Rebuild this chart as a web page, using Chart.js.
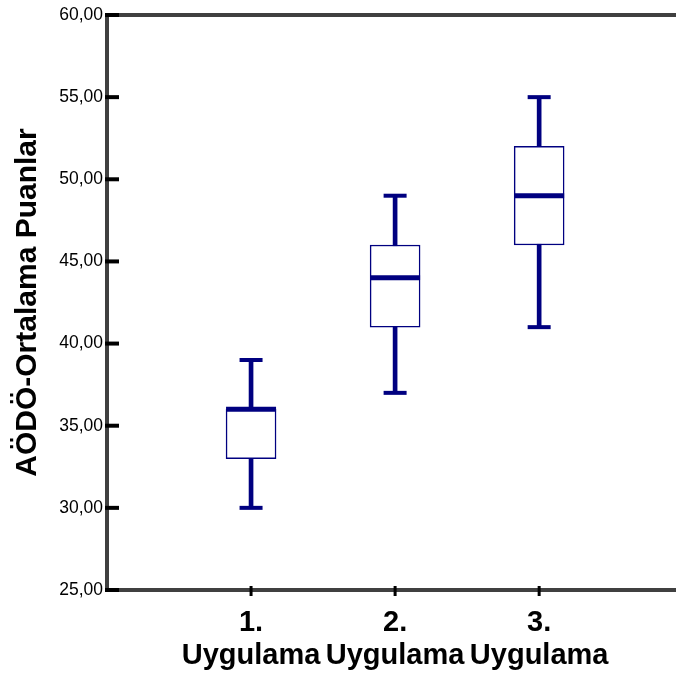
<!DOCTYPE html>
<html>
<head>
<meta charset="utf-8">
<script src="https://cdn.jsdelivr.net/npm/chart.js@4"></script>
<style>
  html, body { margin: 0; padding: 0; background: #fff; overflow: hidden; }
  #wrap { width: 676px; height: 675px; }
</style>
</head>
<body>
<div id="wrap"><canvas id="chart" width="676" height="675"></canvas></div>
<script>
const categories = [['1.', 'Uygulama'], ['2.', 'Uygulama'], ['3.', 'Uygulama']];
const positions = [1, 2, 3];
const whiskerLow = [30, 37, 41];
const q1 = [33, 41, 46];
const median = [36, 44, 49];
const q3 = [36, 46, 52];
const whiskerHigh = [39, 49, 55];
const yTicks = [25, 30, 35, 40, 45, 50, 55, 60];

const navy = '#000080';
const axisGrey = '#404040';

const boxDetails = {
  id: 'boxDetails',
  afterDatasetsDraw(chart) {
    const ctx = chart.ctx;
    const x = chart.scales.x, y = chart.scales.y;
    const area = chart.chartArea;
    ctx.save();
    ctx.strokeStyle = navy;
    ctx.lineCap = 'butt';
    positions.forEach((p, i) => {
      const cx = x.getPixelForValue(p);
      // whisker caps
      ctx.lineWidth = 4;
      [whiskerLow[i], whiskerHigh[i]].forEach(v => {
        const py = y.getPixelForValue(v);
        ctx.beginPath();
        ctx.moveTo(cx - 11.5, py);
        ctx.lineTo(cx + 11.5, py);
        ctx.stroke();
      });
      // median
      ctx.lineWidth = 5;
      const my = y.getPixelForValue(median[i]);
      ctx.beginPath();
      ctx.moveTo(cx - 25, my);
      ctx.lineTo(cx + 25, my);
      ctx.stroke();
    });
    // inner tick marks on the y axis
    ctx.strokeStyle = '#000';
    ctx.lineWidth = 4;
    yTicks.forEach(v => {
      const py = y.getPixelForValue(v);
      ctx.beginPath();
      ctx.moveTo(area.left - 2, py);
      ctx.lineTo(area.left + 12, py);
      ctx.stroke();
    });
    // tick marks on the x axis
    ctx.lineWidth = 3;
    positions.forEach(p => {
      const px = x.getPixelForValue(p);
      ctx.beginPath();
      ctx.moveTo(px, area.bottom - 4);
      ctx.lineTo(px, area.bottom + 6);
      ctx.stroke();
    });
    ctx.restore();
  }
};

const ctx = document.getElementById('chart').getContext('2d');
const myChart = new Chart(ctx, {
  type: 'bar',
  data: {
    datasets: [{
      // boxes q1..q3
      data: positions.map((p, i) => ({ x: p, y: [q1[i], q3[i]] })),
      backgroundColor: '#ffffff',
      borderColor: navy,
      borderWidth: 1.5,
      borderSkipped: false,
      barThickness: 50,
      grouped: false
    }, {
      // whiskers
      data: positions.map((p, i) => ({ x: p, y: [whiskerLow[i], whiskerHigh[i]] })),
      backgroundColor: navy,
      borderWidth: 0,
      barThickness: 4,
      grouped: false
    }]
  },
  options: {
    responsive: false,
    animation: false,
    layout: { padding: { top: 15, right: 0, bottom: 0, left: 0 } },
    plugins: {
      legend: { display: false },
      tooltip: { enabled: false }
    },
    scales: {
      x: {
        type: 'linear',
        position: 'bottom',
        offset: false,
        min: 0,
        max: 3.95,
        afterBuildTicks: (scale) => { scale.ticks = positions.map(v => ({ value: v })); },
        afterFit: (scale) => { scale.height = 85; },
        ticks: {
          autoSkip: false,
          maxRotation: 0,
          padding: 16,
          color: '#000',
          font: { family: 'Liberation Sans, Arial', size: 29, weight: 'bold', lineHeight: 1.15 },
          callback: (v) => {
            const i = positions.indexOf(v);
            return i >= 0 ? categories[i] : '';
          }
        },
        grid: { display: false, drawTicks: false },
        border: { display: true, color: axisGrey, width: 4 }
      },
      xTop: {
        type: 'linear',
        position: 'top',
        offset: false,
        min: 0,
        max: 3.95,
        afterFit: (scale) => { scale.height = 0; },
        ticks: { display: false },
        grid: { display: false, drawTicks: false },
        border: { display: true, color: axisGrey, width: 4 }
      },
      y: {
        min: 25,
        max: 60,
        afterBuildTicks: (scale) => { scale.ticks = yTicks.map(v => ({ value: v })); },
        afterFit: (scale) => { scale.width = 107; },
        ticks: {
          padding: 4,
          color: '#000',
          font: { family: 'Liberation Sans, Arial', size: 17.5 },
          callback: (v) => v.toFixed(2).replace('.', ',')
        },
        grid: { display: false, drawTicks: false },
        border: { display: true, color: axisGrey, width: 4 },
        title: {
          display: true,
          text: 'AÖDÖ-Ortalama Puanlar',
          color: '#000',
          padding: { top: 10, bottom: 0 },
          font: { family: 'Liberation Sans, Arial', size: 30, weight: 'bold' }
        }
      }
    }
  },
  plugins: [boxDetails]
});
</script>
</body>
</html>
